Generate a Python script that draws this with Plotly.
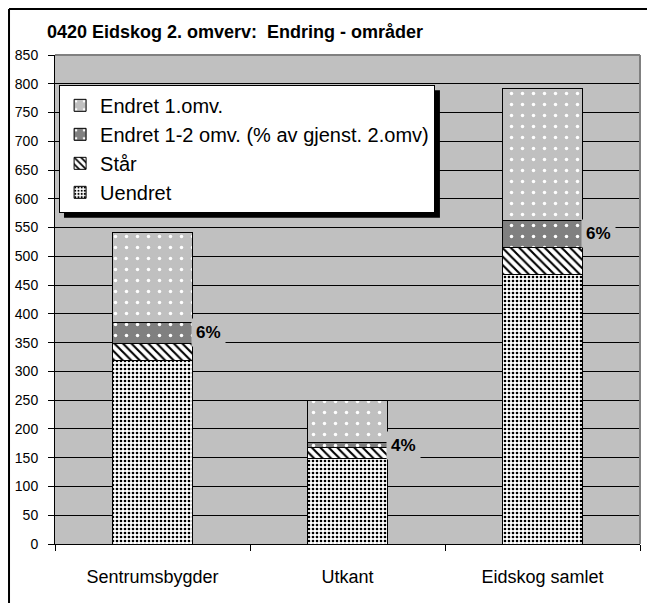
import plotly.graph_objects as go

categories = ["Sentrumsbygder", "Utkant", "Eidskog samlet"]
uendret = [319, 149, 468]
staar = [30, 18, 48]
endret_12 = [36, 10, 46]
endret_1 = [157, 73, 230]
pct_labels = ["6%", "4%", "6%"]

FONT = "Liberation Sans, Arial, sans-serif"
GRAY = "#C0C0C0"

fig = go.Figure()

series = [
    ("Uendret", uendret, dict(shape=".", bgcolor="white", fgcolor="black", size=4, solidity=0.35)),
    ("Står", staar, dict(shape="\\", bgcolor="white", fgcolor="black", size=6, solidity=0.35)),
    ("Endret 1-2 omv. (% av gjenst. 2.omv)", endret_12,
     dict(shape=".", bgcolor="#808080", fgcolor="white", size=11, solidity=0.08)),
    ("Endret 1.omv.", endret_1, dict(shape=".", bgcolor=GRAY, fgcolor="white", size=11, solidity=0.08)),
]

for name, vals, pat in series:
    fig.add_trace(go.Bar(
        x=categories,
        y=vals,
        name=name,
        width=0.41,
        marker=dict(color=pat["bgcolor"], pattern=dict(fillmode="replace", **pat),
                    line=dict(color="black", width=1)),
        hoverinfo="y+name",
    ))

# percentage labels beside the "Endret 1-2" segment
for i, cat in enumerate(categories):
    ymid = uendret[i] + staar[i] + endret_12[i] / 2
    fig.add_annotation(
        x=cat, y=ymid, text="<b>%s</b>" % pct_labels[i],
        xanchor="left", yanchor="middle", xshift=38,
        showarrow=False, bgcolor=GRAY, borderpad=4,
        font=dict(size=17, color="black", family=FONT),
    )

# outer chart frame (cropped at right and bottom)
fig.add_shape(type="line", xref="paper", yref="paper",
              x0=-0.0786, x1=1.02, y0=1.0941, y1=1.0941, line=dict(color="black", width=2))
fig.add_shape(type="line", xref="paper", yref="paper",
              x0=-0.0786, x1=-0.0786, y0=1.0941, y1=-0.13, line=dict(color="black", width=2))
# plot area border, gray on top and right
fig.add_shape(type="line", xref="paper", yref="paper", x0=0, x1=1, y0=1, y1=1,
              line=dict(color="#808080", width=2), layer="above")
fig.add_shape(type="line", xref="paper", yref="paper", x0=1, x1=1, y0=0, y1=1,
              line=dict(color="#808080", width=2), layer="above")
# legend shadow
fig.add_shape(type="rect", xref="paper", yref="paper",
              x0=0.0154, x1=0.658, y0=0.928, y1=0.667,
              fillcolor="black", line=dict(width=0), layer="above")

fig.update_layout(
    width=647, height=603,
    margin=dict(l=55, r=7, t=55, b=59, autoexpand=False),
    paper_bgcolor="white",
    plot_bgcolor=GRAY,
    barmode="stack",
    font=dict(family=FONT, color="black", size=14),
    title=dict(text="<b>0420 Eidskog 2. omverv:  Endring - områder</b>",
               xref="container", yref="container",
               x=47 / 647, xanchor="left", y=1 - 32 / 603, yanchor="middle",
               font=dict(size=18, family=FONT)),
    showlegend=True,
    legend=dict(x=0.007, y=0.939, xanchor="left", yanchor="top",
                bgcolor="white", bordercolor="black", borderwidth=1,
                traceorder="reversed", font=dict(size=20, family=FONT)),
    xaxis=dict(showline=True, linecolor="black", linewidth=1, ticks="outside",
               tickson="boundaries", ticklen=6, tickcolor="black", ticklabelstandoff=16,
               tickfont=dict(size=18), range=[-0.5, 2.5], automargin=False),
    yaxis=dict(range=[0, 850], dtick=50, showline=True, linecolor="black", linewidth=1,
               ticks="outside", ticklen=6, tickcolor="black", ticklabelstandoff=7,
               showgrid=True, gridcolor="black", gridwidth=1,
               zeroline=False, tickfont=dict(size=14), automargin=False),
)

fig.write_html("out.html", post_script="document.body.style.margin='0';",
               config={"displayModeBar": False})
